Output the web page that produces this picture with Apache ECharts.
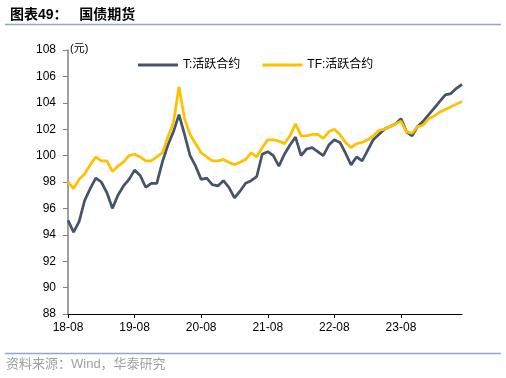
<!DOCTYPE html>
<html>
<head>
<meta charset="utf-8">
<script src="https://cdn.jsdelivr.net/npm/echarts@6/dist/echarts.min.js"></script>
<style>
  html, body { margin: 0; padding: 0; background: #fff; }
  #main { width: 506px; height: 378px; }
</style>
</head>
<body>
<div id="main"></div>
<script>
// 月度数据，2018-08 至 2024-07
const months = [
  '18-08','18-09','18-10','18-11','18-12','19-01','19-02','19-03','19-04','19-05','19-06','19-07',
  '19-08','19-09','19-10','19-11','19-12','20-01','20-02','20-03','20-04','20-05','20-06','20-07',
  '20-08','20-09','20-10','20-11','20-12','21-01','21-02','21-03','21-04','21-05','21-06','21-07',
  '21-08','21-09','21-10','21-11','21-12','22-01','22-02','22-03','22-04','22-05','22-06','22-07',
  '22-08','22-09','22-10','22-11','22-12','23-01','23-02','23-03','23-04','23-05','23-06','23-07',
  '23-08','23-09','23-10','23-11','23-12','24-01','24-02','24-03','24-04','24-05','24-06','24-07'
];

// T:活跃合约
const tValues = [
  95.1, 94.2, 95.0, 96.6, 97.5, 98.3, 98.0, 97.2, 96.0, 97.0, 97.7, 98.2,
  98.9, 98.5, 97.6, 97.9, 97.9, 99.5, 100.8, 101.8, 103.1, 101.6, 100.0, 99.2,
  98.2, 98.3, 97.8, 97.7, 98.1, 97.6, 96.8, 97.3, 97.9, 98.1, 98.4, 100.1,
  100.3, 100.0, 99.2, 100.1, 100.8, 101.4, 100.0, 100.5, 100.6, 100.3, 100.0, 100.8,
  101.2, 101.0, 100.2, 99.3, 99.9, 99.6, 100.4, 101.2, 101.6, 102.0, 102.2, 102.4,
  102.8, 101.8, 101.5, 102.2, 102.6, 103.1, 103.6, 104.1, 104.6, 104.7, 105.1, 105.4
];

// TF:活跃合约
const tfValues = [
  98.0, 97.5, 98.2, 98.6, 99.3, 99.9, 99.6, 99.6, 98.8, 99.2, 99.5, 100.0,
  100.1, 99.9, 99.6, 99.6, 99.9, 100.2, 101.4, 102.5, 105.2, 102.8, 101.6, 100.9,
  100.2, 99.9, 99.6, 99.6, 99.7, 99.5, 99.3, 99.5, 99.7, 100.2, 99.9, 100.6,
  101.2, 101.2, 101.1, 100.9, 101.5, 102.4, 101.5, 101.5, 101.6, 101.6, 101.3, 101.8,
  102.0, 101.6, 101.0, 100.6, 100.9, 101.0, 101.2, 101.5, 101.9, 102.0, 102.2, 102.4,
  102.6, 101.8, 101.7, 102.2, 102.3, 102.8, 103.0, 103.3, 103.5, 103.7, 103.9, 104.1
];

const FONT = '"Liberation Sans", Arial, "Noto Sans CJK SC", sans-serif';

let myChart = echarts.init(document.getElementById('main'), null, { renderer: 'canvas' });

let option = {
  backgroundColor: '#fff',
  animation: false,
  textStyle: { fontFamily: FONT },
  title: {
    text: '图表49：   国债期货',
    left: 5,
    top: 3,
    textStyle: { fontSize: 14, fontWeight: 'bold', color: '#000', fontFamily: FONT }
  },
  graphic: [
    { type: 'line', shape: { x1: 5, y1: 24.5, x2: 501, y2: 24.5 }, style: { stroke: '#8EA9CF', lineWidth: 1.5 } },
    { type: 'line', shape: { x1: 5, y1: 353.5, x2: 501, y2: 353.5 }, style: { stroke: '#8EA9CF', lineWidth: 1.5 } },
    { type: 'text', left: 6, top: 358, style: { text: '资料来源：Wind，华泰研究', fill: '#a0a0a0', font: '13px ' + FONT } },
    { type: 'text', left: 70, top: 43, style: { text: '(元)', fill: '#000', font: '11px ' + FONT } }
  ],
  legend: {
    top: 54,
    left: 133,
    itemWidth: 40,
    itemHeight: 3,
    itemGap: 22,
    icon: 'rect',
    textStyle: { fontSize: 12, color: '#000', fontFamily: FONT },
    data: ['T:活跃合约', 'TF:活跃合约']
  },
  grid: { left: 68, right: 44, top: 50, bottom: 64, containLabel: false },
  xAxis: {
    type: 'category',
    boundaryGap: false,
    data: months,
    axisLine: { lineStyle: { color: '#000', width: 1 } },
    axisTick: { interval: 11, length: 4, lineStyle: { color: '#000' } },
    axisLabel: { interval: 11, color: '#000', fontSize: 12, margin: 8, fontFamily: FONT },
    splitLine: { show: false }
  },
  yAxis: {
    type: 'value',
    min: 88,
    max: 108,
    interval: 2,
    axisLine: { show: true, lineStyle: { color: '#808080', width: 1.5 } },
    axisTick: { show: true, length: 5, lineStyle: { color: '#808080' } },
    axisLabel: { color: '#000', fontSize: 12, margin: 12, fontFamily: FONT },
    splitLine: { show: false }
  },
  series: [
    {
      name: 'T:活跃合约',
      type: 'line',
      symbol: 'none',
      data: tValues,
      itemStyle: { color: '#44546A' },
      lineStyle: { color: '#44546A', width: 2.75 }
    },
    {
      name: 'TF:活跃合约',
      type: 'line',
      symbol: 'none',
      data: tfValues,
      itemStyle: { color: '#FFC000' },
      lineStyle: { color: '#FFC000', width: 2.75 }
    }
  ]
};

option && myChart.setOption(option);
</script>
</body>
</html>
